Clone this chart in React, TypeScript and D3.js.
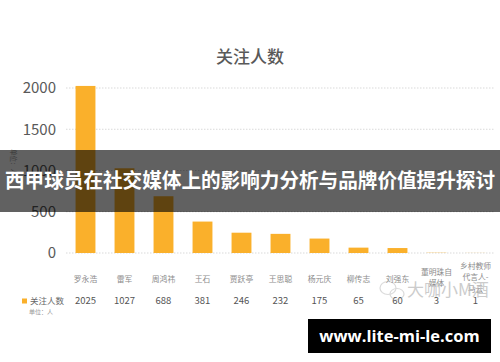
import React from "react";
import * as d3 from "d3";

const categories: string[][] = [
  ["罗永浩"], ["雷军"], ["周鸿祎"], ["王石"], ["贾跃亭"], ["王思聪"],
  ["杨元庆"], ["柳传志"], ["刘强东"], ["董明珠自", "媒体"], ["乡村教师", "代言人-", "马云"],
];
const values: number[] = [2025, 1027, 688, 381, 246, 232, 175, 65, 60, 3, 1];
const yTicks: number[] = [0, 500, 1000, 1500, 2000];
const seriesName = "关注人数";
const chartTitle = "关注人数";
const unitLabel = "单位：人";
const bannerText = "西甲球员在社交媒体上的影响力分析与品牌价值提升探讨";
const siteText = "www.lite-mi-le.com";
const watermark = "大咖小M酒";

const W = 500, H = 362;
const FONT = "'Noto Sans CJK SC', 'Noto Sans', sans-serif";

export default function App() {
  const keys = categories.map((c) => c.join(""));
  const x = d3.scaleBand<string>().domain(keys).range([66, 495]).paddingInner(0.49).paddingOuter(0.245);
  const y = d3.scaleLinear().domain([0, 2000]).range([253, 88]);
  const barColor = "#FAB02B";

  return (
    <svg width={W} height={H} style={{ position: "absolute", left: 0, top: 0, background: "#fff" }} fontFamily={FONT}>
      <rect x={0} y={0} width={W} height={H} fill="#fff" />
      <text x={250} y={57} dy="0.36em" textAnchor="middle" fontSize={17} fontWeight={500} fill="#595959">{chartTitle}</text>
      {yTicks.map((t) => (
        <g key={t}>
          <line x1={66} x2={494} y1={y(t)} y2={y(t)} stroke="#d9d9d9" strokeWidth={1} strokeDasharray="1.5,1.5" />
          <text x={56} y={y(t)} dy="0.36em" textAnchor="end" fontSize={15} fill="#595959">{t}</text>
        </g>
      ))}
      <text transform={`translate(11,162) rotate(90)`} textAnchor="middle" fontSize={6.5} fill="#999">{unitLabel}</text>
      {values.map((v, i) => (
        <rect key={keys[i]} x={x(keys[i])} y={y(v)} width={x.bandwidth()} height={y(0) - y(v)} fill={barColor} />
      ))}
      {categories.map((lines, i) => {
        const cx = (x(keys[i]) as number) + x.bandwidth() / 2;
        const n = lines.length;
        const startY = n === 1 ? 279 : n === 2 ? 272 : 266;
        return (
          <text key={keys[i]} x={cx} textAnchor="middle" fontSize={7.8} fill="#8c8c8c">
            {lines.map((l, j) => (
              <tspan key={j} x={cx} y={startY + j * 11.5} dy="0.35em">{l}</tspan>
            ))}
          </text>
        );
      })}
      <rect x={22} y={298.5} width={5} height={5} fill={barColor} />
      <text x={30} y={301} dy="0.35em" fontSize={8.5} fill="#666">{seriesName}</text>
      <text x={29} y={312} dy="0.35em" fontSize={6} fill="#999">{unitLabel}</text>
      {values.map((v, i) => (
        <text key={keys[i]} x={(x(keys[i]) as number) + x.bandwidth() / 2} y={301} dy="0.35em" textAnchor="middle" fontSize={9.5} fill="#555">{v}</text>
      ))}
      <g opacity={0.35} fill="none" stroke="#999" strokeWidth={1.2}>
        <ellipse cx={388} cy={288} rx={8} ry={6.5} />
        <ellipse cx={397} cy={294} rx={7} ry={5.5} />
      </g>
      <text x={407} y={290} dy="0.35em" fontSize={17} fill="#bbb" opacity={0.75}>{watermark}</text>
      <rect x={0} y={150} width={W} height={62} fill="rgba(0,0,0,0.62)" />
      <text x={250} y={181} dy="0.36em" textAnchor="middle" fontSize={20} fontWeight={700} fill="#fff" textLength={490} lengthAdjust="spacingAndGlyphs">{bannerText}</text>
      <rect x={308} y={319} width={183} height={34} fill="#000" />
      <text x={399.5} y={336} dy="0.36em" textAnchor="middle" fontSize={16.5} fontWeight={700} fill="#fff" fontFamily="'Open Sans', 'DejaVu Sans', sans-serif">{siteText}</text>
    </svg>
  );
}
